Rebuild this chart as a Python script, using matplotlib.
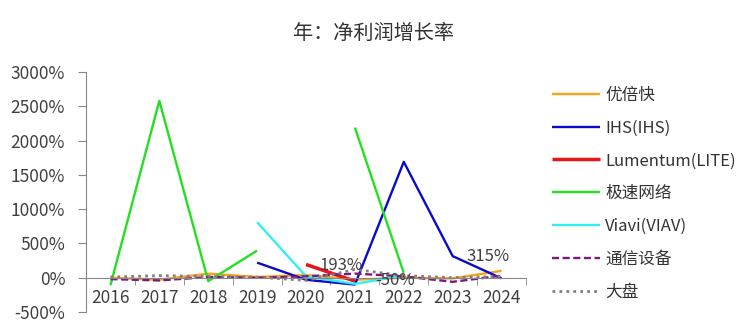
import numpy as np
import matplotlib
matplotlib.use("Agg")
import matplotlib.pyplot as plt

plt.rcParams['font.family'] = ['Noto Sans CJK SC', 'DejaVu Sans']

years = ["2016", "2017", "2018", "2019", "2020", "2021", "2022", "2023", "2024"]
nan = np.nan
youbeikuai = [0, -30, 60, 10, 40, -30, 0, -10, 100]
ihs = [nan, nan, nan, 220, -30, -100, 1690, 315, -10]
lumentum = [nan, nan, nan, nan, 193, -50, nan, nan, nan]
jisuwangluo = [-110, 2580, -50, 395, nan, 2190, 70, nan, nan]
viavi = [nan, nan, nan, 810, 20, -90, 30, nan, nan]
tongxin = [-20, -40, 10, 0, 20, 60, 20, -60, 30]
dapan = [10, 30, 20, 10, -40, 120, 30, 0, 20]

series_names = ["优倍快", "IHS(IHS)", "Lumentum(LITE)", "极速网络", "Viavi(VIAV)", "通信设备", "大盘"]
series_vals = [youbeikuai, ihs, lumentum, jisuwangluo, viavi, tongxin, dapan]
colors = ["#F5A31A", "#0A0ACF", "#E8141A", "#22E022", "#33F0F0", "#7B1A7B", "#808080"]
widths = [1.7, 1.7, 2.5, 1.7, 1.7, 1.7, 2.0]
styles = ["-", "-", "-", "-", "-", (0, (3, 1.5)), (0, (1, 1.5))]

labels = [(2, 4, "193%", (10, -0.5)), (2, 5, "-50%", (15, 0.5)), (1, 7, "315%", (10, -0.5))]

fig = plt.figure(figsize=(7.5, 3.33), dpi=100)
ax = fig.add_axes([86/750, 1-312/333, 440/750, 240/333])

x = np.arange(len(years))
handles = []
for name, vals, c, lw, ls in zip(series_names, series_vals, colors, widths, styles):
    h, = ax.plot(x, vals, color=c, lw=lw, ls=ls, label=name, solid_capstyle='butt',
                 dash_capstyle='butt')
    handles.append(h)

for si, xi, txt, off in labels:
    ax.annotate(txt, (x[xi], series_vals[si][xi]), xytext=off, textcoords='offset points',
                ha='left', va='center', fontsize=12, color='#404040')

ax.set_xlim(-0.5, len(years) - 0.5)
ax.set_ylim(-500, 3000)
ax.set_yticks(np.arange(-500, 3001, 500))
ax.set_yticklabels([f"{v}%" for v in range(-500, 3001, 500)])
ax.set_xticks(x)
ax.set_xticklabels(years)
ax.set_xticks(np.arange(-0.5, len(years), 1), minor=True)
ax.tick_params(axis='x', which='major', length=0, labelsize=12.5, colors='#404040', pad=8)
ax.tick_params(axis='x', which='minor', length=5, color='#888888', direction='out')
ax.tick_params(axis='y', length=6, color='#888888', labelsize=12.5, colors='#404040', pad=9)
for t in ax.yaxis.get_ticklines():
    t.set_color('#888888')

ax.spines['top'].set_visible(False)
ax.spines['right'].set_visible(False)
ax.spines['left'].set_color('#888888')
ax.spines['bottom'].set_color('#888888')
ax.spines['bottom'].set_position(('data', 0))
ax.patch.set_alpha(0)

fig.suptitle("年：净利润增长率", x=374/750, y=1-33/333, va='center', fontsize=14.5, color='#333333')

leg = fig.legend(handles=handles, loc='upper left', bbox_to_anchor=(545/750, 1-80/333),
                 frameon=False, fontsize=12, handlelength=2.9, handletextpad=0.3,
                 labelspacing=0.95, borderaxespad=0)
for t in leg.get_texts():
    t.set_color('#333333')

fig.savefig("out.png", dpi=100)
